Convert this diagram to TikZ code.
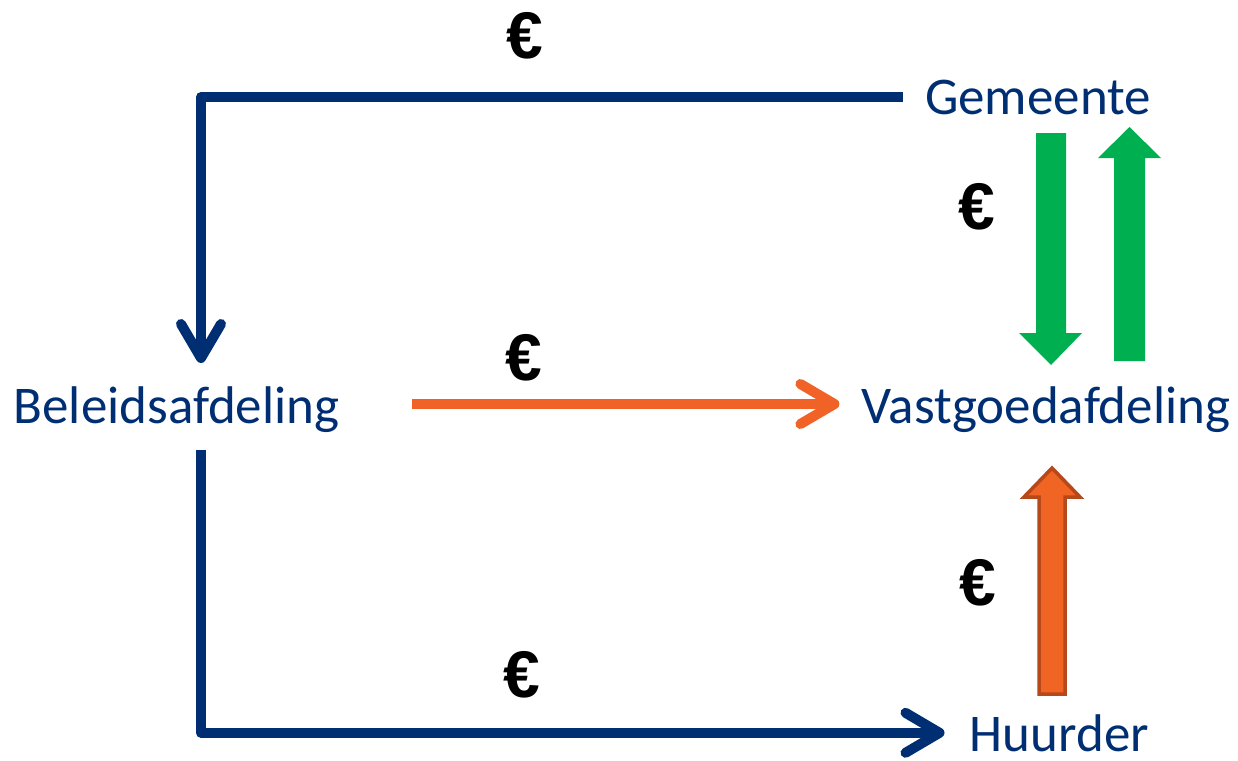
\documentclass[tikz,border=0pt]{standalone}
\usepackage{fontspec}
\setmainfont{Carlito}
\newfontfamily\eurofont{Liberation Sans}
\usetikzlibrary{arrows.meta}

\definecolor{navy}{RGB}{0,46,115}
\definecolor{flowgreen}{RGB}{0,176,80}
\definecolor{floworange}{RGB}{240,98,38}
\definecolor{blockorange}{RGB}{240,100,36}
\definecolor{blockedge}{RGB}{182,72,26}

\newcommand{\flowwidth}{5pt}
\newcommand{\gap}{11pt}

\tikzset{
	party/.style={inner sep=0pt, anchor=base, text=navy, font=\fontsize{26.5}{30}\selectfont},
	euro/.style={inner sep=0pt, font=\eurofont\fontsize{33}{36}\selectfont\bfseries},
	flow/.style={line width=\flowwidth, line join=round, -{Straight Barb[length=17pt,width=20pt,round]}}
}

\begin{document}
\begin{tikzpicture}[x=0.5pt,y=-0.5pt]
	\useasboundingbox (0,0) rectangle (1238,761);
	%The parties
	\node[party] (gem) at (1038,114) {Gemeente};
	\node[party] (bel) at (176.5,423) {Beleidsafdeling};
	\node[party] (vast) at (1046,423) {Vastgoedafdeling};
	\node[party] (huur) at (1059.5,751) {Huurder};
	%Free ends of the navy lines
	\coordinate (belin) at (201,363);
	\coordinate (belout) at (201,450);
	%Draw the money flows between the departments
	\begin{scope}[navy]
		\draw[flow] ([xshift=-\gap]gem.west) -| (belin);
		\draw[flow] (belout) |- ([xshift=-12.5pt]huur.west);
	\end{scope}
	\draw[flow, floworange] ([xshift=36pt,yshift=9.5pt]bel.base east) -- ([xshift=-\gap,yshift=9.5pt]vast.base west);
	%Draw the block arrows at the right
	\begin{scope}[flowgreen]
		\fill (1036,133) -- (1066,133) -- (1066,333) -- (1082,333) -- (1051,365) -- (1019,333) -- (1036,333) -- cycle;
		\fill (1114,361) -- (1145,361) -- (1145,158) -- (1161,158) -- (1129.5,127) -- (1098,158) -- (1114,158) -- cycle;
	\end{scope}
	\filldraw[fill=blockorange, draw=blockedge, line width=1.75pt] (1039,694) -- (1065,694) -- (1065,497) -- (1080,497) -- (1052,468) -- (1024,497) -- (1039,497) -- cycle;
	%The euro signs
	\node[euro] (e1) at (525,36) {€};
	\node[euro] (e2) at (524,358) {€};
	\node[euro] (e3) at (522,675) {€};
	\node[euro] (e4) at (977,207) {€};
	\node[euro] (e5) at (978,583) {€};
\end{tikzpicture}
\end{document}
